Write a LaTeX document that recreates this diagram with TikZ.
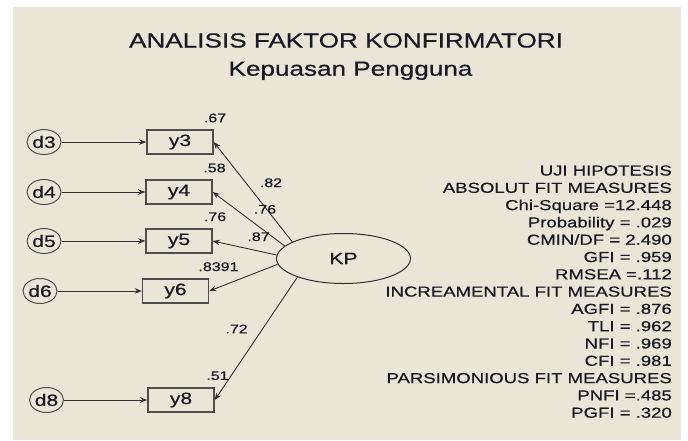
\documentclass[tikz,border=0pt]{standalone}
\usepackage{fontspec}
\setmainfont{Liberation Sans}[FakeStretch=1.28, FakeBold=0.6]
\usetikzlibrary{arrows.meta, shapes.geometric}
\definecolor{paper}{HTML}{EAE6D7}
\definecolor{ink}{HTML}{1A1A26}
\definecolor{wire}{HTML}{303030}
\definecolor{frame}{HTML}{4E4E4E}
\tikzset{
  indicator/.style={rectangle, draw=frame, line width=1.5pt, minimum width=66pt,
    minimum height=24pt, inner sep=0pt, font=\fontsize{16.5}{18}\selectfont, text=ink},
  errorvar/.style={ellipse, draw=frame, line width=1pt, minimum width=34pt,
    minimum height=25pt, inner sep=0pt, font=\fontsize{16.5}{18}\selectfont, text=ink},
  latent/.style={ellipse, draw=wire, line width=1pt, minimum width=134pt,
    minimum height=50pt, inner sep=0pt, font=\fontsize{16.5}{18}\selectfont, text=ink},
  arrow/.style={-{Stealth[length=7pt, width=5.5pt]}, line width=0.9pt, wire},
  coef/.style={font=\fontsize{12.5}{14}\selectfont, text=ink, inner sep=0pt},
  fitline/.style={anchor=base east, font=\fontsize{14.5}{17}\selectfont, text=ink, inner sep=0pt},
  heading/.style={anchor=base, font=\fontsize{20.4}{24}\selectfont, text=ink, inner sep=0pt},
}

\begin{document}
\begin{tikzpicture}[x=1pt, y=-1pt]
\useasboundingbox (0,0) rectangle (688,440);
\fill[paper] (13,7) rectangle (681,440);

% title
\node[heading] (title) at (346,47.5) {ANALISIS FAKTOR KONFIRMATORI};
\node[heading] (subtitle) at (350.5,75.7) {Kepuasan Pengguna};

% latent factor
\node[latent] (KP) at (343.5,258.5) {KP};

% indicators and their errors
\node[indicator] (y3) at (180,142) {y3};
\node[indicator] (y4) at (179,192) {y4};
\node[indicator] (y5) at (179,241) {y5};
\node[indicator] (y6) at (175.5,291) {y6};
\node[indicator] (y8) at (181,400) {y8};

\node[errorvar] (d3) at (44,142) {d3};
\node[errorvar] (d4) at (44,192) {d4};
\node[errorvar] (d5) at (44,241) {d5};
\node[errorvar] (d6) at (40,291) {d6};
\node[errorvar] (d8) at (46.5,400) {d8};

\draw[arrow] (d3) -- (y3);
\draw[arrow] (d4) -- (y4);
\draw[arrow] (d5) -- (y5);
\draw[arrow] (d6) -- (y6);
\draw[arrow] (d8) -- (y8);

% loadings
\draw[arrow] (KP.162) -- (y3.east);
\draw[arrow] (KP.168) -- (y4.east);
\draw[arrow] (KP.177) -- (y5.east);
\draw[arrow] (KP.185) -- (y6.east);
\draw[arrow] (KP.202) -- (y8.east);

% squared multiple correlations
\node[coef] (r3) at (215,118) {.67};
\node[coef] (r4) at (214.5,168) {.58};
\node[coef] (r5) at (215,216.7) {.76};
\node[coef] (r6) at (218.5,266.7) {.8391};
\node[coef] (r8) at (217.5,375.7) {.51};

\node[coef] (l3) at (271,182.7) {.82};
\node[coef] (l4) at (265,209.3) {.76};
\node[coef] (l5) at (258.5,236.7) {.87};
\node[coef] (l8) at (236.5,329) {.72};

% fit measures
\foreach \txt [count=\i from 0] in {UJI HIPOTESIS, ABSOLUT FIT MEASURES,
    Chi-Square =12.448, Probability = .029, CMIN/DF = 2.490, GFI = .959,
    RMSEA =.112, INCREAMENTAL FIT MEASURES, AGFI = .876, TLI = .962,
    NFI = .969, CFI = .981, PARSIMONIOUS FIT MEASURES, PNFI =.485, PGFI = .320}
  \node[fitline] (fit\i) at (672,175.5+17.3*\i) {\txt};
\end{tikzpicture}
\end{document}
